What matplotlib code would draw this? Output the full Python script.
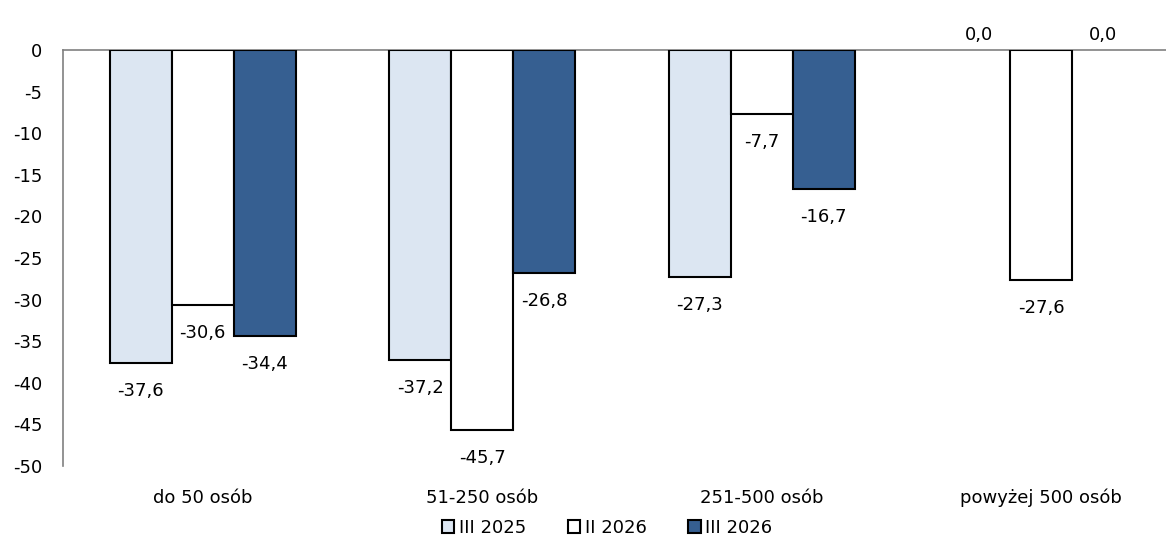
import matplotlib
matplotlib.use("Agg")
import matplotlib.pyplot as plt
import numpy as np

categories = ["do 50 osób", "51-250 osób", "251-500 osób", "powyżej 500 osób"]
series_names = ["III 2025", "II 2026", "III 2026"]
iii_2025 = [-37.6, -37.2, -27.3, 0.0]
ii_2026 = [-30.6, -45.7, -7.7, -27.6]
iii_2026 = [-34.4, -26.8, -16.7, 0.0]
yticks = list(range(0, -55, -5))

colors = ["#DCE6F2", "#FFFFFF", "#365F91"]

plt.rcParams['font.family'] = ['DejaVu Sans']
fig = plt.figure(figsize=(11.66, 5.41), dpi=100)
ax = fig.add_axes([63/1166, 1-466/541, (1181-63)/1166, 416/541])

x = np.arange(len(categories))
w = 0.222
fs = 13
px = 72 / 100  # points per pixel
for i, (vals, name, c) in enumerate(zip([iii_2025, ii_2026, iii_2026], series_names, colors)):
    pos = x + (i - 1) * w
    lws = [0 if v == 0 else 1.5 for v in vals]
    ax.bar(pos, vals, width=w, color=c, edgecolor="black", linewidth=lws, label=name, zorder=3)
    for p, v in zip(pos, vals):
        txt = f"{v:.1f}".replace(".", ",")
        off = -28 * px if v < 0 else 15 * px
        ax.annotate(txt, (p, v), xytext=(0, off), textcoords="offset points",
                    ha="center", va="center", fontsize=fs)

ax.set_xlim(-0.5, len(categories) - 0.5)
ax.set_ylim(-50, 0)
ax.set_yticks(yticks)
ax.set_yticklabels([str(t) for t in yticks], fontsize=fs)
ax.tick_params(axis="y", length=0, pad=15)
ax.tick_params(axis="x", length=0)
ax.set_xticks([])
for s in ["right", "bottom"]:
    ax.spines[s].set_visible(False)
ax.spines["left"].set_color("#808080")
ax.spines["top"].set_color("#808080")
ax.spines["left"].set_linewidth(1.2)
ax.spines["top"].set_linewidth(1.2)

for xi, cat in zip(x, categories):
    ax.annotate(cat, (xi, -50), xytext=(0, -32 * px), textcoords="offset points",
                ha="center", va="center", fontsize=fs)

leg = fig.legend(loc="center", bbox_to_anchor=(607 / 1166, 1 - 528 / 541), ncol=3, frameon=False,
                 fontsize=fs, handlelength=0.7, handleheight=0.7, handletextpad=0.25,
                 columnspacing=2.3, borderaxespad=0)
for h in leg.legend_handles:
    h.set_linewidth(1.5)

fig.savefig("out.png", dpi=100)
